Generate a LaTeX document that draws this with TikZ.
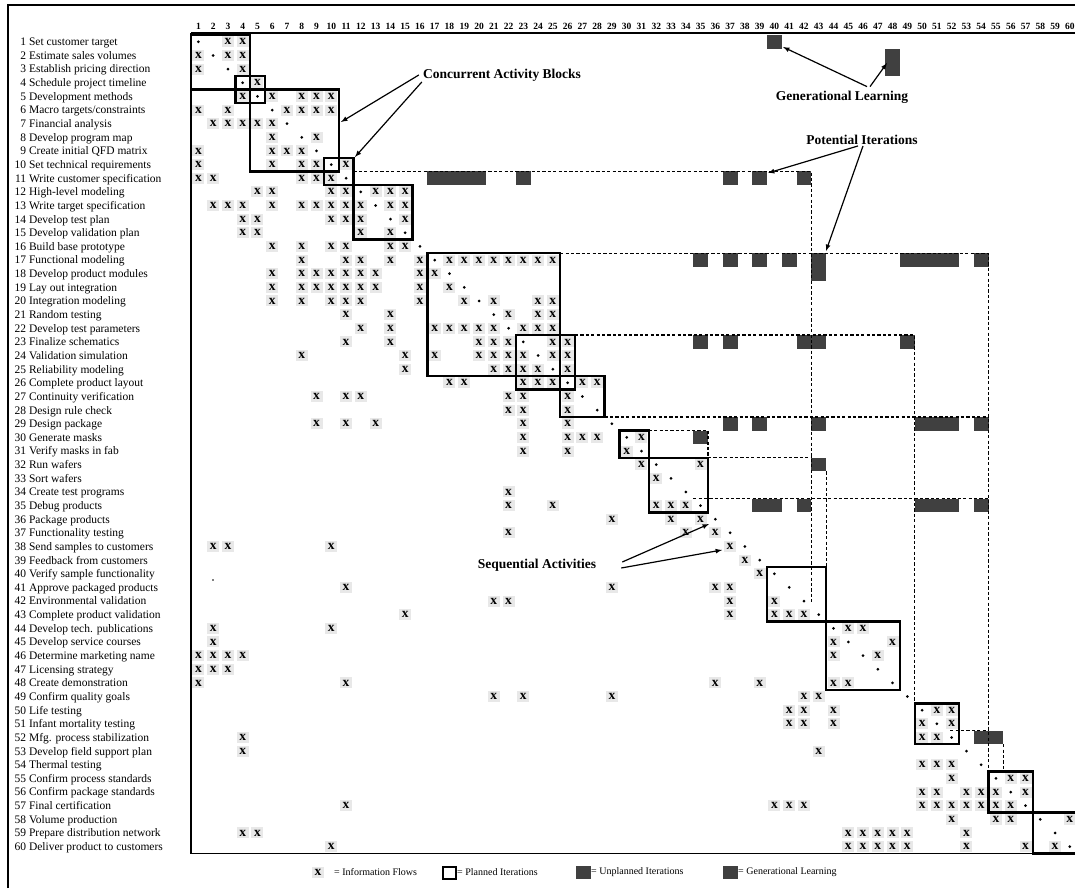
\documentclass[tikz,border=0pt]{standalone}
\usepackage{fontspec}
\setmainfont{Liberation Serif}

\begin{document}
\begin{tikzpicture}[
    x=1pt,
    y=-1pt,
    flow/.style={
        fill=black!9,
        inner sep=0pt,
        minimum width=12pt,
        minimum height=11pt,
        font=\fontsize{13.5}{13.5}\selectfont\bfseries
    },
    planned/.style={
        line width=2.4pt
    },
    potential/.style={
        line width=1.2pt,
        dash pattern=on 3.2pt off 2.2pt
    },
    unplanned/.style={
        fill=black!75
    },
    frame/.style={
        line width=1.8pt
    },
    pointer/.style={
        line width=1.2pt,
        -latex
    },
    tasklabel/.style={
        anchor=base west,
        inner sep=0pt,
        font=\fontsize{11.5}{12}\selectfont
    },
    colnum/.style={
        anchor=base,
        inner sep=0pt,
        font=\fontsize{9.5}{10}\selectfont\bfseries
    },
    callout/.style={
        inner sep=1pt,
        font=\fontsize{13.5}{14}\selectfont\bfseries
    },
    legendtext/.style={
        anchor=west,
        inner sep=0pt,
        font=\fontsize{10}{11}\selectfont
    }
]

\useasboundingbox (0,0) rectangle (1075,888);

% =================================================
% Outer frame
% =================================================

\draw[frame] (8,888) -- (8,5) -- (1075,5);

% =================================================
% Activity names
% =================================================

\foreach \n/\t in {
    1/Set customer target, 2/Estimate sales volumes,
    3/Establish pricing direction, 4/Schedule project timeline,
    5/Development methods, 6/{Macro targets/constraints},
    7/Financial analysis, 8/Develop program map,
    9/Create initial QFD matrix, 10/Set technical requirements,
    11/Write customer specification, 12/High-level modeling,
    13/Write target specification, 14/Develop test plan,
    15/Develop validation plan, 16/Build base prototype,
    17/Functional modeling, 18/Develop product modules,
    19/Lay out integration, 20/Integration modeling,
    21/Random testing, 22/Develop test parameters,
    23/Finalize schematics, 24/Validation simulation,
    25/Reliability modeling, 26/Complete product layout,
    27/Continuity verification, 28/Design rule check,
    29/Design package, 30/Generate masks,
    31/Verify masks in fab, 32/Run wafers,
    33/Sort wafers, 34/Create test programs,
    35/Debug products, 36/Package products,
    37/Functionality testing, 38/Send samples to customers,
    39/Feedback from customers, 40/Verify sample functionality,
    41/Approve packaged products, 42/Environmental validation,
    43/Complete product validation, 44/Develop tech. publications,
    45/Develop service courses, 46/Determine marketing name,
    47/Licensing strategy, 48/Create demonstration,
    49/Confirm quality goals, 50/Life testing,
    51/Infant mortality testing, 52/Mfg. process stabilization,
    53/Develop field support plan, 54/Thermal testing,
    55/Confirm process standards, 56/Confirm package standards,
    57/Final certification, 58/Volume production,
    59/Prepare distribution network, 60/Deliver product to customers}
    \node[tasklabel] (t\n) at (14,{35+(\n-0.5)*13.64+3.9})
        {\makebox[12pt][r]{\n}\ \t};

% =================================================
% Matrix (one unit = one cell)
% =================================================

\begin{scope}[shift={(191,35)}, x=14.77pt, y=-13.64pt]

% Column numbers
\foreach \c in {1,...,60}
    \node[colnum] (c\c) at (\c-0.5,-0.37) {\c};

% Information flows
\foreach \r/\cols in {
    1/{3,4}, 2/{1,3,4}, 3/{1,4}, 4/{5}, 5/{4,6,8,9,10},
    6/{1,3,7,8,9,10}, 7/{2,3,4,5,6}, 8/{6,9}, 9/{1,6,7,8},
    10/{1,6,8,9,11}, 11/{1,2,8,9,10}, 12/{5,6,10,11,13,14,15},
    13/{2,3,4,6,8,9,10,11,12,14,15}, 14/{4,5,10,11,12,15},
    15/{4,5,12,14}, 16/{6,8,10,11,14,15},
    17/{8,11,12,14,16,18,19,20,21,22,23,24,25},
    18/{6,8,9,10,11,12,13,16,17}, 19/{6,8,9,10,11,12,13,16,18},
    20/{6,8,10,11,12,16,19,21,24,25}, 21/{11,14,22,24,25},
    22/{12,14,17,18,19,20,21,23,24,25}, 23/{11,14,20,21,22,25,26},
    24/{8,15,17,20,21,22,23,25,26}, 25/{15,21,22,23,24,26},
    26/{18,19,23,24,25,27,28}, 27/{9,11,12,22,23,26}, 28/{22,23,26},
    29/{9,11,13,23,26}, 30/{23,26,27,28,31}, 31/{23,26,30},
    32/{31,35}, 33/{32}, 34/{22}, 35/{22,25,32,33,34},
    36/{29,33,35}, 37/{22,34,36}, 38/{2,3,10,37}, 39/{38}, 40/{39},
    41/{11,29,36,37}, 42/{21,22,37,40}, 43/{15,37,40,41,42},
    44/{2,10,45,46}, 45/{2,44,48}, 46/{1,2,3,4,44,47}, 47/{1,2,3},
    48/{1,11,36,39,44,45}, 49/{21,23,29,42,43}, 50/{41,42,44,51,52},
    51/{41,42,44,50,52}, 52/{4,50,51}, 53/{4,43}, 54/{50,51,52},
    55/{52,56,57}, 56/{50,51,53,54,55,57},
    57/{11,40,41,42,50,51,52,53,54,55,56}, 58/{52,55,56,60},
    59/{4,5,45,46,47,48,49,53}, 60/{10,45,46,47,48,49,53,57,59}}
{
    \foreach \c in \cols
        \node[flow] (f-\r-\c) at (\c-0.5,\r-0.5) {x};
}

% Unplanned iterations and generational learning
\foreach \r/\cols in {
    1/{40}, 2/{48}, 3/{48},
    11/{17,18,19,20,23,37,39,42},
    17/{35,37,39,41,43,49,50,51,52,54}, 18/{43},
    23/{35,37,42,43,49},
    29/{37,39,43,50,51,52,54}, 30/{35}, 32/{43},
    35/{39,40,42,50,51,52,54}, 52/{54,55}}
{
    \foreach \c in \cols
        \fill[unplanned] (\c-1,\r-1) rectangle (\c,\r);
}

% Potential iterations
\draw[potential] (11,10) -- (42,10) -- (42,41.6);
\draw[potential] (25,16) -- (54,16) -- (54,54);
\draw[potential] (26,22) -- (49,22) -- (49,49);
\draw[potential] (28,28) -- (54,28);
\draw[potential] (31,29) -- (35,29) -- (35,31);
\draw[potential] (35,31) -- (42,31);
\draw[potential] (43,32) -- (43,39);
\draw[potential] (34,34) -- (54,34);
\draw[potential] (51.4,51) -- (54,51);
\draw[potential] (55,52) -- (55,54);

% Planned iterations (activity blocks)
\foreach \a/\b in {0/4, 3/5, 4/10, 9/11, 11/15, 16/25, 22/26, 25/28,
                   29/31, 31/35, 39/43, 43/48, 49/52, 54/57, 57/60}
    \draw[planned] (\a,\a) rectangle (\b,\b);

% Diagonal
\foreach \i in {1,...,60}
    \fill (\i-0.5,\i-0.5) circle (1.5pt);

% Matrix border
\draw[frame] (0,-0.15) -- (60.2,-0.15);
\draw[frame] (0,-0.15) -- (0,60) -- (60.2,60);

\end{scope}

\fill (213,580) circle (0.9pt);

% =================================================
% Callouts
% =================================================

\node[callout] (concur)   at (502,75)  {Concurrent Activity Blocks};
\node[callout] (genlearn) at (842,97)  {Generational Learning};
\node[callout] (potit)    at (862,140) {Potential Iterations};
\node[callout] (seqact)   at (537,565) {Sequential Activities};

\coordinate (cab-a) at (341,122);
\coordinate (cab-b) at (355,157);
\coordinate (gl-a)  at (783,47);
\coordinate (gl-b)  at (887,63);
\coordinate (pi-a)  at (768,173);
\coordinate (pi-b)  at (826,251);
\coordinate (sa-a)  at (709,524);
\coordinate (sa-b)  at (722,550);

\draw[pointer] ([xshift=-3pt]concur.west) -- (cab-a);
\draw[pointer] ([yshift=-7pt]concur.west) -- (cab-b);
\draw[pointer] ([xshift=25pt,yshift=3pt]genlearn.north) -- (gl-a);
\draw[pointer] ([xshift=28pt,yshift=3pt]genlearn.north) -- (gl-b);
\draw[pointer] ([xshift=-4pt]potit.south) -- (pi-a);
\draw[pointer] ([xshift=1pt]potit.south) -- (pi-b);
\draw[pointer] ([xshift=25pt,yshift=3pt]seqact.east) -- (sa-a);
\draw[pointer] ([xshift=24pt,yshift=-3pt]seqact.east) -- (sa-b);

% =================================================
% Legend
% =================================================

\node[flow] (legflow) at (318,872) {x};
\node[legendtext] (legflow-t) at (334,872) {= Information Flows};

\draw[planned] (443,867) rectangle (456,879);
\node[legendtext] (legplan-t) at (457,872) {= Planned Iterations};

\fill[unplanned] (576,866) rectangle (591,879);
\node[legendtext] (legunpl-t) at (591,872) {= Unplanned Iterations};

\fill[unplanned] (723,866) rectangle (738,879);
\node[legendtext] (leggen-t) at (738,872) {= Generational Learning};

\end{tikzpicture}
\end{document}
